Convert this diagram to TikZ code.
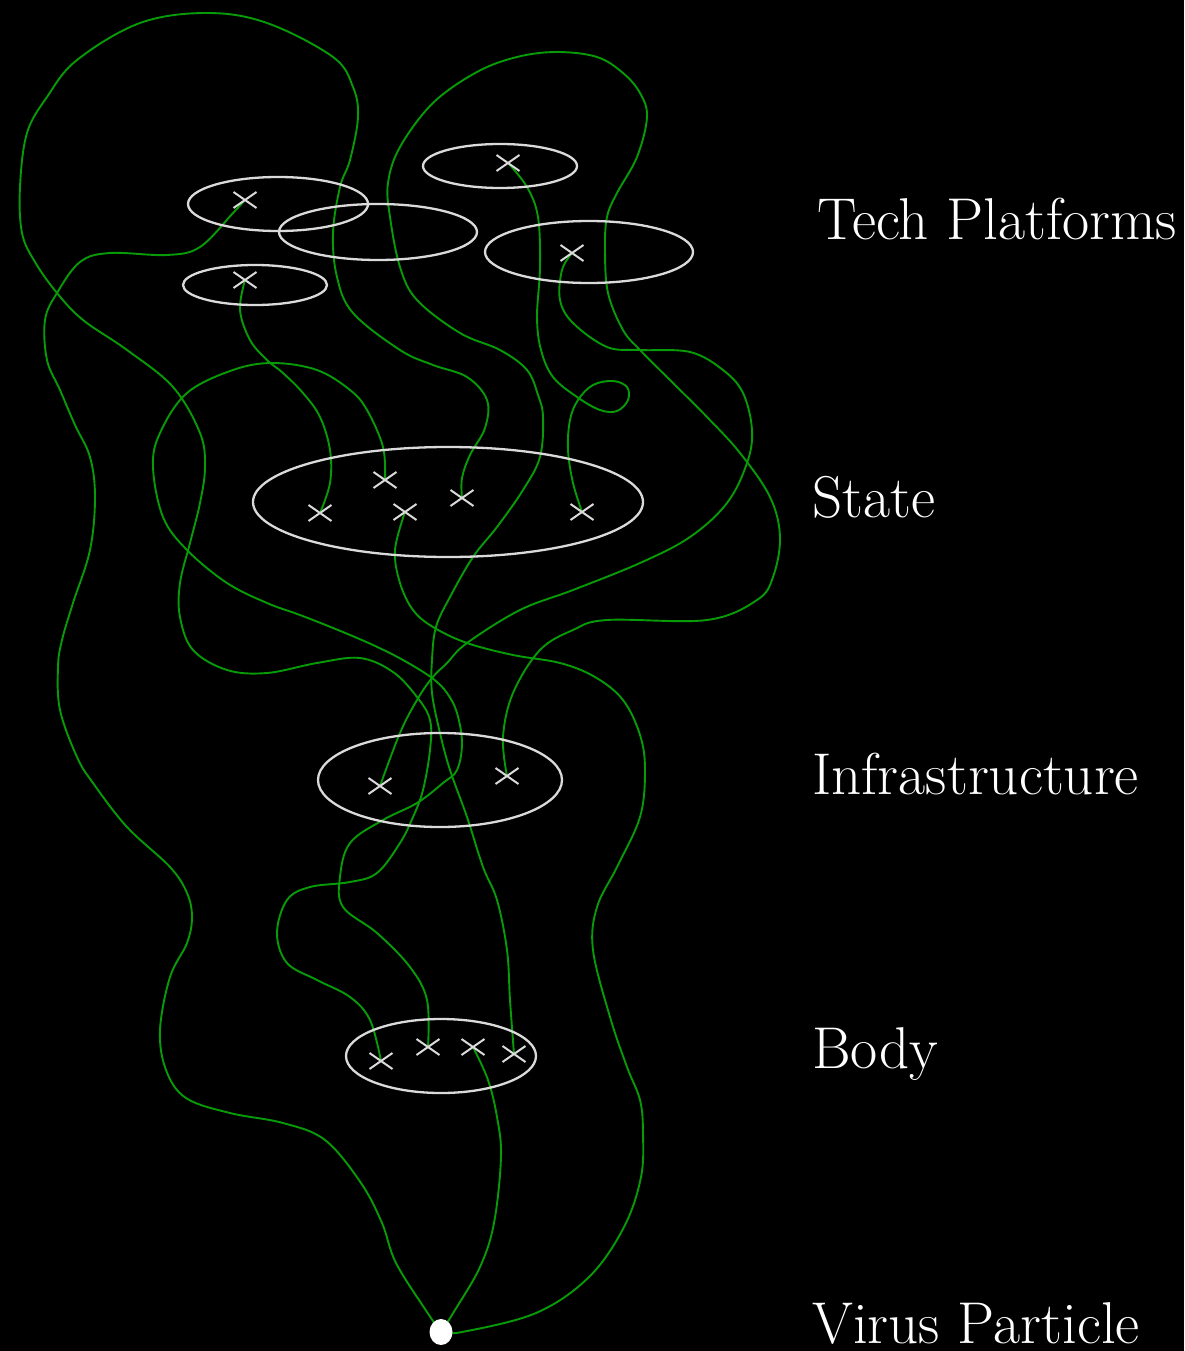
\documentclass[tikz,border=0pt]{standalone}
\usetikzlibrary{shapes.geometric,shapes.misc}
\definecolor{wiregreen}{RGB}{8,155,8}
\definecolor{ringgray}{RGB}{218,218,218}
\begin{document}
\begin{tikzpicture}[x=1pt,y=-1pt,
  wire/.style={draw=wiregreen,line width=1.9pt,line join=round},
  plane/.style={draw=ringgray,line width=2.3pt,ellipse,inner sep=0pt,fill=none},
  xmark/.style={cross out,draw=ringgray,line width=2pt,minimum width=21pt,minimum height=14pt,inner sep=0pt},
  lbl/.style={anchor=base west,text=white,font=\fontsize{59}{64}\selectfont,inner sep=0pt},
  sm/.style={smooth,tension=0.6}]
\fill[black] (0,0) rectangle (1184,1351);
\useasboundingbox (0,0) rectangle (1184,1351);
% cross positions
\coordinate (T1) at (245,200);
\coordinate (T2) at (508,163);
\coordinate (T3) at (572,253);
\coordinate (T4) at (245,280);
\coordinate (S1) at (320,513);
\coordinate (S2) at (385,480);
\coordinate (S3) at (405,512);
\coordinate (S4) at (462,498);
\coordinate (S5) at (582,512);
\coordinate (I1) at (380,786);
\coordinate (I2) at (507,776);
\coordinate (B1) at (381,1061);
\coordinate (B2) at (428,1047);
\coordinate (B3) at (473,1047);
\coordinate (B4) at (514,1054);
\coordinate (P) at (441,1332);
% green wires
\draw[wire] plot[sm] coordinates {(P) (427,1312) (396,1263) (382,1223) (361,1183) (325,1140) (283,1123) (230,1113) (186,1098) (166,1070) (160,1030) (170,977) (187,943) (192,917) (187,893) (170,867) (127,827) (93,783) (77,757) (60,710) (58,667) (62,640) (73,603) (90,550) (95,497) (90,457) (75,425) (60,390) (47,360) (45,320) (57,293) (80,262) (110,253) (167,255) (200,247) (233,213) (T1)};
\draw[wire] plot[sm] coordinates {(P) (455,1310) (480,1267) (494,1223) (501,1157) (497,1117) (488,1080) (B3)};
\draw[wire] plot[sm] coordinates {(P) (462,1332) (536,1313) (589,1277) (624,1227) (641,1177) (643,1133) (640,1100) (627,1067) (610,1017) (593,950) (597,907) (617,867) (640,817) (645,770) (640,735) (623,700) (595,677) (560,663) (513,655) (467,643) (433,627) (413,610) (400,583) (395,550) (S3)};
\draw[wire] plot[sm] coordinates {(T3) (562,270) (560,300) (573,323) (607,347) (640,350) (690,352) (723,370) (743,393) (752,430) (747,463) (727,503) (690,537) (640,563) (573,590) (520,610) (467,643) (447,663) (432,678) (417,700) (400,733) (I1)};
\draw[wire] plot[sm] coordinates {(B4) (510,1000) (507,950) (497,900) (483,867) (467,817) (450,770) (440,733) (432,693) (432,660) (436,627) (450,597) (473,557) (497,527) (523,490) (540,457) (543,417) (538,395) (527,370) (500,350) (460,333) (417,300) (400,267) (390,217) (388,183) (400,147) (433,103) (477,72) (517,57) (557,52) (597,57) (623,73) (640,93) (647,117) (637,157) (617,193) (607,217) (605,250) (608,293) (623,330) (640,350) (673,383) (707,417) (740,453) (770,497) (780,537) (773,577) (757,600) (707,620) (607,620) (573,630) (540,650) (513,693) (503,737) (I2)};
\draw[wire] plot[sm] coordinates {(B1) (370,1020) (350,997) (317,980) (287,963) (277,933) (287,900) (310,887) (350,882) (377,873) (400,843) (413,817) (423,790) (430,750) (430,720) (417,697) (393,672) (360,658) (317,663) (267,673) (227,670) (193,650) (180,617) (180,583) (190,543) (200,503) (205,467) (200,433) (173,387) (127,350) (83,320) (57,293) (35,262) (22,233) (20,187) (27,133) (47,97) (77,60) (140,23) (207,13) (267,23) (333,57) (353,87) (358,117) (350,160) (340,187) (333,233) (337,277) (353,313) (400,350) (433,365) (467,377) (487,400) (485,428) (470,455) (462,478) (S4)};
\draw[wire] plot[sm] coordinates {(B2) (427,1000) (410,967) (377,933) (343,907) (340,877) (350,843) (383,820) (417,803) (443,783) (457,770) (462,743) (457,713) (447,693) (432,678) (403,660) (373,645) (338,630) (300,615) (267,603) (227,583) (187,550) (163,517) (153,467) (160,433) (187,393) (233,370) (273,363) (317,370) (350,390) (367,410) (383,447) (S2)};
\draw[wire] plot[sm] coordinates {(T4) (240,310) (250,340) (267,360) (283,373) (303,393) (320,417) (330,450) (330,483) (S1)};
\draw[wire] plot[sm] coordinates {(T2) (527,187) (538,217) (540,267) (537,317) (541,350) (553,377) (577,397) (600,410) (617,411) (628,400) (627,387) (613,381) (593,385) (578,400) (570,420) (568,450) (573,483) (S5)};
% planes
\node[plane,minimum width=180pt,minimum height=54pt] (E1) at (278,204) {};
\node[plane,minimum width=198pt,minimum height=56pt] (E2) at (378,232) {};
\node[plane,minimum width=154pt,minimum height=44pt] (E3) at (500,166) {};
\node[plane,minimum width=208pt,minimum height=62pt] (E4) at (589,252) {};
\node[plane,minimum width=144pt,minimum height=40pt] (E5) at (255,285) {};
\node[plane,minimum width=390pt,minimum height=110pt] (ES) at (448,502) {};
\node[plane,minimum width=244pt,minimum height=94pt] (EI) at (440,780) {};
\node[plane,minimum width=190pt,minimum height=74pt] (EB) at (441,1056) {};
% crosses
\foreach \c in {T1,T2,T3,T4,S1,S2,S3,S4,S5,I1,I2,B1,B2,B3,B4}
  \node[xmark] (x\c) at (\c) {};
% particle
\node[ellipse,fill=white,minimum width=23pt,minimum height=26pt,inner sep=0pt] (particle) at (P) {};
% labels
\node[lbl] (ltp) at (817,239) {Tech Platforms};
\node[lbl] (lst) at (812,517) {State};
\node[lbl] (lin) at (812,794) {Infrastructure};
\node[lbl] (lbo) at (812,1068) {Body};
\node[lbl] (lvp) at (812,1343) {Virus Particle};
\end{tikzpicture}
\end{document}
